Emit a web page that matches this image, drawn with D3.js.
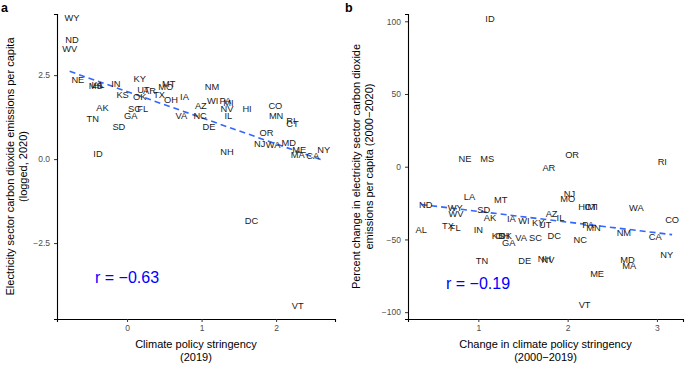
<!DOCTYPE html>
<html>
<head>
<meta charset="utf-8">
<script src="https://cdn.jsdelivr.net/npm/d3@7"></script>
<style>
  body { margin: 0; background: #fff; }
  svg { font-family: "Liberation Sans", Arial, sans-serif; }
  .tick text { fill: #4d4d4d; font-size: 8.5px; }
  .tick line { stroke: #333; }
  .domain { stroke: #000; stroke-width: 1.1px; }
</style>
</head>
<body>
<svg id="chart" width="685" height="365"></svg>
<script>
// panel a: policy stringency 2019 vs logged emissions per capita 2020
var statesA = ["WY","ND","WV","NE","MS","AL","LA","IN","KY","UT","AR","MT","MO","KS","OK","TX","OH","IA",
  "NM","WI","PA","MI","NV","IL","AZ","HI","AK","SC","FL","GA","TN","SD","VA","NC","DE","CO","MN","RI",
  "CT","OR","NJ","WA","MD","ME","MA","CA","NY","NH","ID","DC","VT"];
var policyA = [-0.74,-0.74,-0.77,-0.66,-0.42,-0.38,-0.40,-0.15,0.17,0.22,0.30,0.56,0.52,-0.06,0.17,0.43,0.59,0.77,
  1.14,1.15,1.32,1.36,1.34,1.36,0.99,1.61,-0.33,0.10,0.21,0.05,-0.46,-0.11,0.73,0.98,1.10,1.99,2.00,2.20,
  2.22,1.87,1.78,1.96,2.17,2.31,2.29,2.49,2.64,1.34,-0.39,1.67,2.29];
var emissionsA = [4.20,3.55,3.29,2.35,2.18,2.20,2.22,2.25,2.38,2.07,2.05,2.25,2.15,1.93,1.85,1.93,1.76,1.87,
  2.15,1.73,1.73,1.69,1.49,1.29,1.58,1.49,1.53,1.49,1.49,1.29,1.19,0.96,1.29,1.29,0.96,1.60,1.28,1.13,
  1.04,0.78,0.47,0.43,0.49,0.27,0.12,0.09,0.27,0.21,0.17,-1.84,-4.37];

// panel b: change in stringency 2000-2019 vs percent change in emissions 2000-2020
var statesB = ["ID","NE","MS","OR","AR","RI","LA","MT","NJ","MO","ND","WY","WV","SD","AK","IA","WI","KY",
  "UT","AZ","IL","HI","CT","MI","WA","CO","PA","MN","NM","CA","AL","TX","FL","IN","KS","OH","OK","GA",
  "VA","SC","DC","NC","TN","DE","NH","NV","MD","MA","NY","ME","VT"];
var policyB = [1.13,0.85,1.10,2.05,1.79,3.06,0.90,1.25,2.02,2.00,0.41,0.74,0.75,1.06,1.13,1.37,1.51,1.67,
  1.75,1.82,1.92,2.17,2.26,2.28,2.77,3.17,2.23,2.29,2.63,2.98,0.36,0.66,0.74,1.00,1.22,1.27,1.30,1.34,
  1.48,1.64,1.85,2.14,1.04,1.52,1.74,1.78,2.67,2.69,3.11,2.33,2.19];
var changeB = [101.4,5.8,5.8,8.5,-0.7,3.4,-20.6,-22.9,-18.8,-21.8,-25.9,-27.9,-32.5,-29.8,-35.1,-36.0,-37.1,-38.5,
  -40.1,-32.5,-34.8,-27.5,-27.5,-27.5,-27.9,-36.7,-40.1,-42.0,-45.4,-48.1,-43.5,-40.8,-41.7,-43.5,-47.7,-47.7,-47.7,-52.0,
  -48.8,-48.8,-47.7,-50.4,-64.9,-64.9,-63.2,-64.0,-64.2,-68.3,-60.7,-73.8,-95.1];

var svg = d3.select("#chart");

function lm(xs, ys) {
  var mx = d3.mean(xs), my = d3.mean(ys);
  var sxy = d3.sum(xs, function(d, i) { return (d - mx) * (ys[i] - my); });
  var sxx = d3.sum(xs, function(d) { return (d - mx) * (d - mx); });
  var b = sxy / sxx;
  return {b: b, a: my - b * mx};
}

function panel(opt) {
  var x = d3.scaleLinear().domain(opt.xdom).range([opt.left, opt.right]);
  var y = d3.scaleLinear().domain(opt.ydom).range([319, 14]);

  svg.append("g")
      .attr("transform", "translate(0,319)")
      .call(d3.axisBottom(x).tickValues(opt.xticks).tickFormat(d3.format("d"))
        .tickSizeOuter(0).tickSize(3).tickPadding(3));

  svg.append("g")
      .attr("transform", "translate(" + opt.left + ",0)")
      .call(d3.axisLeft(y).tickValues(opt.yticks).tickFormat(opt.yfmt).tickSizeOuter(0).tickSize(3).tickPadding(4));

  // fitted line (lm over the x range of the data)
  var fit = lm(opt.xs, opt.ys);
  var ext = d3.extent(opt.xs);
  svg.append("line")
      .attr("x1", x(ext[0])).attr("y1", y(fit.a + fit.b * ext[0]))
      .attr("x2", x(ext[1])).attr("y2", y(fit.a + fit.b * ext[1]))
      .attr("stroke", "#3366ff")
      .attr("stroke-width", 1.6)
      .attr("stroke-dasharray", "6,4");

  svg.append("g").selectAll("text")
      .data(opt.names)
    .enter().append("text")
      .attr("x", function(d, i) { return x(opt.xs[i]); })
      .attr("y", function(d, i) { return y(opt.ys[i]); })
      .attr("dy", "0.35em")
      .attr("text-anchor", "middle")
      .attr("font-size", 9.3)
      .attr("fill", "#1a1a1a")
      .text(function(d) { return d; });

  svg.append("text")
      .attr("x", opt.rpos[0]).attr("y", opt.rpos[1])
      .attr("dy", "0.35em")
      .attr("font-size", 16)
      .attr("fill", "#0000ff")
      .text(opt.rtext);

  var mid = (opt.left + opt.right) / 2;
  opt.xtitle.forEach(function(t, i) {
    svg.append("text")
        .attr("x", mid).attr("y", 348 + i * 13)
        .attr("text-anchor", "middle")
        .attr("font-size", 11)
        .attr("fill", "#000")
        .text(t);
  });
  opt.ytitle.forEach(function(t, i) {
    svg.append("text")
        .attr("transform", "translate(" + (opt.ytx + i * 13) + ",166.5) rotate(-90)")
        .attr("text-anchor", "middle")
        .attr("font-size", 11)
        .attr("fill", "#000")
        .text(t);
  });

  svg.append("text")
      .attr("x", opt.tag[0]).attr("y", opt.tag[1])
      .attr("font-size", 12.5)
      .attr("font-weight", "bold")
      .text(opt.tagText);
}

panel({
  left: 57, right: 335,
  xdom: [-0.94, 2.79], ydom: [-4.76, 4.32],
  xticks: [0, 1, 2], yticks: [-2.5, 0, 2.5],
  yfmt: d3.format(".1f"),
  xs: policyA, ys: emissionsA, names: statesA,
  rtext: "r = \u22120.63", rpos: [95, 277],
  xtitle: ["Climate policy stringency", "(2019)"],
  ytitle: ["Electricity sector carbon dioxide emissions per capita", "(logged, 2020)"],
  ytx: 14,
  tag: [1, 12], tagText: "a"
});

panel({
  left: 408, right: 683,
  xdom: [0.212, 3.292], ydom: [-104.7, 105],
  xticks: [1, 2, 3], yticks: [-100, -50, 0, 50, 100],
  yfmt: d3.format("d"),
  xs: policyB, ys: changeB, names: statesB,
  rtext: "r = \u22120.19", rpos: [446, 283],
  xtitle: ["Change in climate policy stringency", "(2000\u22122019)"],
  ytitle: ["Percent change in electricity sector carbon dioxide", "emissions per capita (2000\u22122020)"],
  ytx: 360,
  tag: [345, 12], tagText: "b"
});
</script>
</body>
</html>
